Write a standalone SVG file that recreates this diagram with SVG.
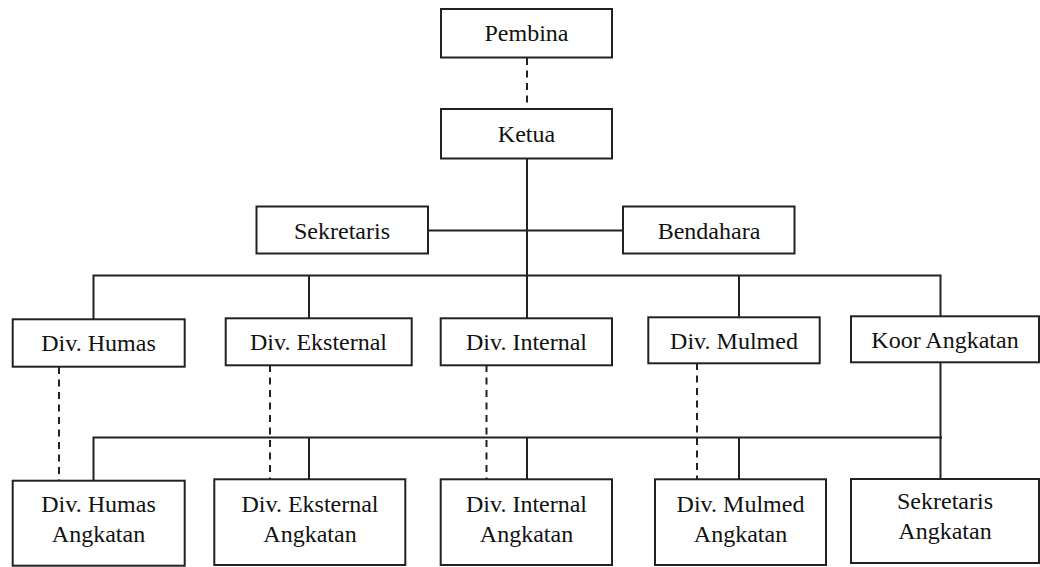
<svg xmlns="http://www.w3.org/2000/svg" width="1040" height="567" viewBox="0 0 1040 567">
<style>
.box{fill:#fff;stroke:#222;stroke-width:2}
.t{font-family:'Times New Roman','Liberation Serif','Tinos','Noto Serif','DejaVu Serif',serif;font-size:24px;fill:#111;text-anchor:middle}
.ln{stroke:#222;stroke-width:2;fill:none}
.ds{stroke:#222;stroke-width:2;fill:none;stroke-dasharray:7 5.5}
</style>
<rect width="1040" height="567" fill="#fff"/>
<g id="connectors">
<line class="ds" x1="527" y1="58" x2="527" y2="109"/>
<line class="ln" x1="527" y1="159" x2="527" y2="318"/>
<line class="ln" x1="428" y1="230.5" x2="623" y2="230.5"/>
<path class="ln" d="M93.5 319 V275.5 H940.5 V316"/>
<line class="ln" x1="309" y1="275.5" x2="309" y2="318"/>
<line class="ln" x1="739" y1="275.5" x2="739" y2="317"/>
<path class="ln" d="M93.5 480.5 V437.5 H942"/>
<line class="ln" x1="940.5" y1="362" x2="940.5" y2="479"/>
<line class="ln" x1="309" y1="437.5" x2="309" y2="479"/>
<line class="ln" x1="527" y1="437.5" x2="527" y2="479"/>
<line class="ln" x1="739" y1="437.5" x2="739" y2="479"/>
<line class="ds" x1="59" y1="367" x2="59" y2="480"/>
<line class="ds" x1="270" y1="365" x2="270" y2="479"/>
<line class="ds" x1="486.5" y1="365" x2="486.5" y2="479"/>
<line class="ds" x1="697" y1="363" x2="697" y2="479"/>
</g>
<g id="pembina"><rect class="box" x="441" y="9" width="171" height="48.5"/><text class="t" x="526.5" y="41">Pembina</text></g>
<g id="ketua"><rect class="box" x="441" y="109" width="171" height="49.5"/><text class="t" x="526.5" y="142">Ketua</text></g>
<g id="sekretaris"><rect class="box" x="256.5" y="206.5" width="171.5" height="47"/><text class="t" x="342" y="238.5">Sekretaris</text></g>
<g id="bendahara"><rect class="box" x="623" y="206.5" width="171.5" height="47"/><text class="t" x="709" y="238.5">Bendahara</text></g>
<g id="div-humas"><rect class="box" x="12.7" y="319.3" width="172" height="47.4"/><text class="t" x="98.5" y="351">Div. Humas</text></g>
<g id="div-eksternal"><rect class="box" x="225.7" y="318.3" width="186" height="47"/><text class="t" x="318.5" y="350">Div. Eksternal</text></g>
<g id="div-internal"><rect class="box" x="440.7" y="318.3" width="171.3" height="47"/><text class="t" x="526.5" y="350">Div. Internal</text></g>
<g id="div-mulmed"><rect class="box" x="648.3" y="317.3" width="171.4" height="46"/><text class="t" x="734" y="349">Div. Mulmed</text></g>
<g id="koor-angkatan"><rect class="box" x="851" y="316.3" width="188" height="46"/><text class="t" x="945" y="348">Koor Angkatan</text></g>
<g id="div-humas-angkatan"><rect class="box" x="12.7" y="480.7" width="172" height="85"/><text class="t" x="98.5" y="512.3">Div. Humas</text><text class="t" x="98.5" y="542.3">Angkatan</text></g>
<g id="div-eksternal-angkatan"><rect class="box" x="214.3" y="479.3" width="191" height="85.7"/><text class="t" x="310" y="511.5">Div. Eksternal</text><text class="t" x="310" y="541.5">Angkatan</text></g>
<g id="div-internal-angkatan"><rect class="box" x="440.7" y="479.3" width="171.3" height="85.7"/><text class="t" x="526.5" y="511.5">Div. Internal</text><text class="t" x="526.5" y="541.5">Angkatan</text></g>
<g id="div-mulmed-angkatan"><rect class="box" x="655" y="479.3" width="171" height="85.7"/><text class="t" x="740.5" y="511.5">Div. Mulmed</text><text class="t" x="740.5" y="541.5">Angkatan</text></g>
<g id="sekretaris-angkatan"><rect class="box" x="851" y="479" width="188" height="84"/><text class="t" x="945" y="509.3">Sekretaris</text><text class="t" x="945" y="539.3">Angkatan</text></g>
</svg>
